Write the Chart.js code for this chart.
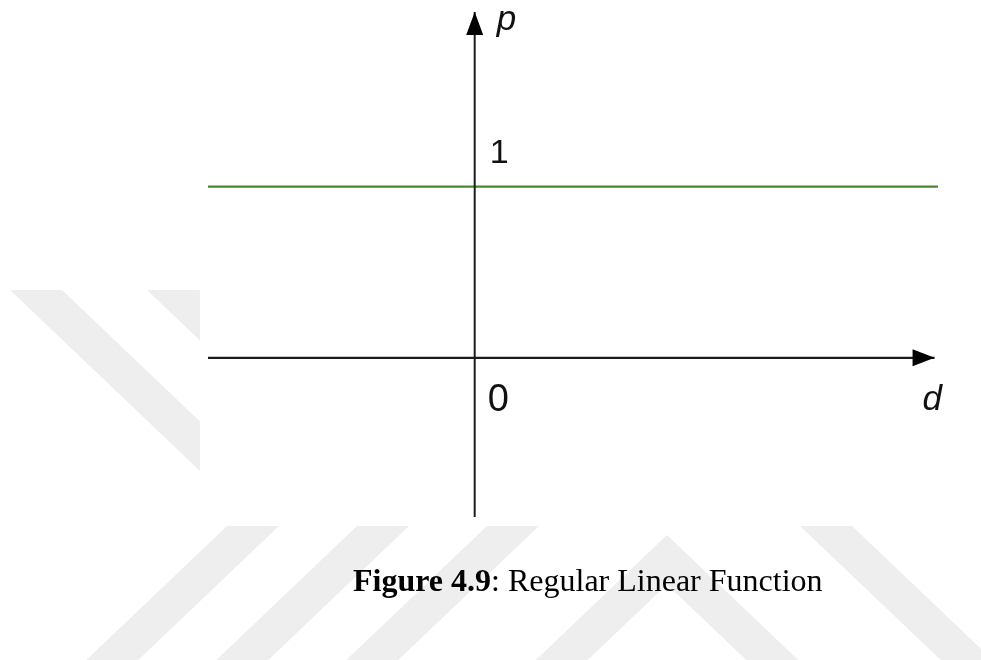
<!DOCTYPE html>
<html>
<head>
<meta charset="utf-8">
<title>Regular Linear Function</title>
<script src="https://cdn.jsdelivr.net/npm/chart.js@4"></script>
<style>
  html, body { margin: 0; padding: 0; background: #fff; }
  #wrap { width: 981px; height: 660px; }
</style>
</head>
<body>
<div id="wrap"><canvas id="fig" width="981" height="660"></canvas></div>
<script>
// p(d) = 1 : constant "regular" function
const dLine = [-1.56, 2.71];
const pLine = [1, 1];

// axes (the last point of each is the arrow tip)
const dAxisX = [-1.56, 2.69];
const dAxisY = [0, 0];
const pAxisX = [0, 0];
const pAxisY = [-0.93, 2.02];

// tick marks that carry a label
const tickZero = 0;
const tickOne = 1;

const dRange = [-1.56, 2.71];
const pRange = [-0.93, 2.02];

const axisLabelX = 'd';
const axisLabelY = 'p';
const captionBold = 'Figure 4.9';
const captionText = ': Regular Linear Function';

const pts = (xs, ys) => xs.map((x, i) => ({ x: x, y: ys[i] }));

// light diagonal bands sitting behind the figure
const backdrop = {
    id: 'backdrop',
    beforeDraw(chart) {
        const c = chart.ctx;
        const k = 1.05, w = 52;
        c.save();
        c.fillStyle = '#eeeeee';

        // upper left group, only visible left of the figure box
        c.save();
        c.beginPath(); c.rect(0, 290, 200, 237); c.clip();
        [10, 147].forEach(x0 => {
            c.beginPath();
            c.moveTo(x0, 290); c.lineTo(x0 + w, 290);
            c.lineTo(x0 + w + k * 300, 590); c.lineTo(x0 + k * 300, 590);
            c.closePath(); c.fill();
        });
        c.restore();

        // lower group, below the figure box
        c.save();
        c.beginPath(); c.rect(0, 526, 981, 134); c.clip();
        const h = 134;
        [227, 357, 487].forEach(x0 => {
            c.beginPath();
            c.moveTo(x0, 526); c.lineTo(x0 + w, 526);
            c.lineTo(x0 + w - k * h, 660); c.lineTo(x0 - k * h, 660);
            c.closePath(); c.fill();
        });
        // peak
        const ax = 667, ay = 535, hb = 660 - ay;
        const iy = ay + w / (2 * k) * 2;
        c.beginPath();
        c.moveTo(ax, ay);
        c.lineTo(ax + k * hb, 660);
        c.lineTo(ax + k * hb - w, 660);
        c.lineTo(ax, iy);
        c.lineTo(ax - k * hb + w, 660);
        c.lineTo(ax - k * hb, 660);
        c.closePath(); c.fill();
        // right band
        c.beginPath();
        c.moveTo(800, 526); c.lineTo(800 + w, 526);
        c.lineTo(800 + w + k * h, 660); c.lineTo(800 + k * h, 660);
        c.closePath(); c.fill();
        c.restore();

        c.restore();
    }
};

// arrow heads, tick labels, axis names and caption
const annotate = {
    id: 'annotate',
    afterDatasetsDraw(chart) {
        const c = chart.ctx;
        const xs = chart.scales.x, ys = chart.scales.y;
        c.save();
        c.fillStyle = '#000';

        // arrow on d axis
        let tx = xs.getPixelForValue(dAxisX[1]), ty = ys.getPixelForValue(dAxisY[1]);
        c.beginPath();
        c.moveTo(tx, ty); c.lineTo(tx - 22, ty - 8.5); c.lineTo(tx - 22, ty + 8.5);
        c.closePath(); c.fill();

        // arrow on p axis
        tx = xs.getPixelForValue(pAxisX[1]); ty = ys.getPixelForValue(pAxisY[1]);
        c.beginPath();
        c.moveTo(tx, ty); c.lineTo(tx - 8.5, ty + 23); c.lineTo(tx + 8.5, ty + 23);
        c.closePath(); c.fill();

        const ox = xs.getPixelForValue(0);
        c.fillStyle = '#111';
        c.textAlign = 'left';
        c.textBaseline = 'alphabetic';

        c.font = '34px "Liberation Sans", Arial, sans-serif';
        c.fillText(String(tickOne), ox + 15, ys.getPixelForValue(tickOne) - 24);
        c.font = '38px "Liberation Sans", Arial, sans-serif';
        c.fillText(String(tickZero), ox + 13, ys.getPixelForValue(tickZero) + 53);

        c.font = 'italic 35px "Liberation Sans", Arial, sans-serif';
        c.fillText(axisLabelY, ox + 22, ys.getPixelForValue(pAxisY[1]) + 18);
        c.fillText(axisLabelX, xs.getPixelForValue(dAxisX[1]) - 12, ys.getPixelForValue(0) + 52);

        // caption
        c.fillStyle = '#000';
        c.font = 'bold 32px "Liberation Serif", "Times New Roman", serif';
        c.fillText(captionBold, 353, 591);
        const bw = c.measureText(captionBold).width;
        c.font = '32px "Liberation Serif", "Times New Roman", serif';
        c.fillText(captionText, 353 + bw, 591);

        c.restore();
    }
};

new Chart(document.getElementById('fig'), {
    type: 'scatter',
    data: {
        datasets: [
            { data: pts(dAxisX, dAxisY), showLine: true, borderColor: '#1c1c1c', borderWidth: 2.2, pointRadius: 0 },
            { data: pts(pAxisX, pAxisY), showLine: true, borderColor: '#1c1c1c', borderWidth: 2, pointRadius: 0 },
            { data: pts(dLine, pLine), showLine: true, borderColor: '#4a8a2c', borderWidth: 2.4, pointRadius: 0 }
        ]
    },
    options: {
        responsive: false,
        animation: false,
        devicePixelRatio: 1,
        layout: { padding: { left: 208, right: 43, top: 12, bottom: 143 } },
        plugins: { legend: { display: false }, tooltip: { enabled: false } },
        scales: {
            x: { type: 'linear', min: dRange[0], max: dRange[1], display: false },
            y: { type: 'linear', min: pRange[0], max: pRange[1], display: false }
        }
    },
    plugins: [backdrop, annotate]
});
</script>
</body>
</html>
